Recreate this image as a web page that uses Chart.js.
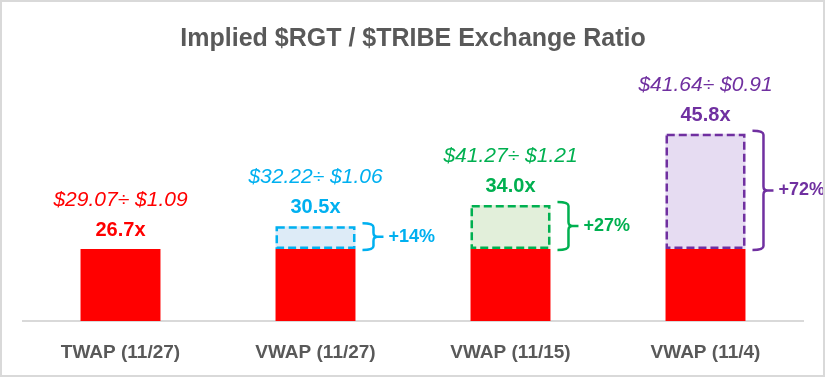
<!DOCTYPE html>
<html>
<head>
<meta charset="utf-8">
<script src="https://cdn.jsdelivr.net/npm/chart.js@4"></script>
<style>
  html, body { margin: 0; padding: 0; background: #fff; }
  #wrap { width: 825px; height: 377px; position: relative; }
</style>
</head>
<body>
<div id="wrap"><canvas id="ratioChart" width="825" height="377"></canvas></div>
<script>
// Данные графика
const categories = ['TWAP (11/27)', 'VWAP (11/27)', 'VWAP (11/15)', 'VWAP (11/4)'];
const ratios = [26.7, 30.5, 34.0, 45.8];
const rgtPrices = [29.07, 32.22, 41.27, 41.64];
const tribePrices = [1.09, 1.06, 1.21, 0.91];
const premiums = ['', '+14%', '+27%', '+72%'];

// Цвета серий
const seriesColors = ['#FF0000', '#00B0F0', '#00B050', '#7030A0'];
const boxFills = ['rgba(0,0,0,0)', '#DDEBF7', '#E2EFDA', '#E6DCF2'];

const FONT = "'Liberation Sans', Arial, sans-serif";

// Фигурная скобка справа от столбца
function drawBrace(ctx, x0, top, bottom, color) {
    const x1 = x0 + 11;
    const mid = (top + bottom) / 2;
    const r = 4;
    ctx.save();
    ctx.strokeStyle = color;
    ctx.lineWidth = 2.5;
    ctx.lineJoin = 'round';
    ctx.beginPath();
    ctx.moveTo(x0, top);
    ctx.quadraticCurveTo(x1, top, x1, top + r);
    ctx.lineTo(x1, mid - r);
    ctx.quadraticCurveTo(x1, mid, x1 + r, mid);
    ctx.lineTo(x1 + 10, mid);
    ctx.moveTo(x1 + r, mid);
    ctx.quadraticCurveTo(x1, mid, x1, mid + r);
    ctx.lineTo(x1, bottom - r);
    ctx.quadraticCurveTo(x1, bottom, x0, bottom);
    ctx.stroke();
    ctx.restore();
    return { x: x1 + 10, y: mid };
}

// Подписи, пунктирные рамки и скобки
const annotatePlugin = {
    id: 'annotate',
    afterDatasetsDraw(chart) {
        const ctx = chart.ctx;
        const baseBars = chart.getDatasetMeta(0).data;
        const boxBars = chart.getDatasetMeta(1).data;

        categories.forEach((cat, i) => {
            const color = seriesColors[i];
            const bar = baseBars[i];
            let top = bar.y;

            if (i > 0 && boxBars[i]) {
                const box = boxBars[i];
                const lw = 2.5;
                const left = box.x - box.width / 2;
                const right = box.x + box.width / 2;
                top = box.y;

                ctx.save();
                ctx.setLineDash([8, 4]);
                ctx.lineWidth = lw;
                ctx.strokeStyle = color;
                ctx.strokeRect(left + lw / 2, box.y + lw / 2, box.width - lw, box.base - box.y - lw);
                ctx.restore();

                const nub = drawBrace(ctx, right + 7, box.y - 3, box.base + 1, color);
                ctx.save();
                ctx.fillStyle = color;
                ctx.font = 'bold 18px ' + FONT;
                ctx.textAlign = 'left';
                ctx.textBaseline = 'middle';
                ctx.fillText(premiums[i], nub.x + 5, nub.y);
                ctx.restore();
            }

            ctx.save();
            ctx.fillStyle = color;
            ctx.textAlign = 'center';
            ctx.textBaseline = 'alphabetic';
            ctx.font = 'bold 20px ' + FONT;
            ctx.fillText(ratios[i].toFixed(1) + 'x', bar.x, top - 13);
            ctx.font = 'italic 21px ' + FONT;
            ctx.fillText('$' + rgtPrices[i].toFixed(2) + '÷ $' + tribePrices[i].toFixed(2), bar.x, top - 43);
            ctx.restore();
        });
    },
    afterDraw(chart) {
        const ctx = chart.ctx;
        ctx.save();
        ctx.strokeStyle = '#D9D9D9';
        ctx.lineWidth = 2;
        ctx.strokeRect(1, 1, chart.width - 2, chart.height - 2);
        ctx.restore();
    }
};

const ctx = document.getElementById('ratioChart').getContext('2d');
new Chart(ctx, {
    type: 'bar',
    data: {
        labels: categories,
        datasets: [
            {
                label: 'TWAP',
                data: categories.map(() => ratios[0]),
                backgroundColor: seriesColors[0],
                borderWidth: 0,
                barPercentage: 0.41,
                categoryPercentage: 1
            },
            {
                label: 'Премия',
                data: ratios.map((r, i) => i === 0 ? null : [ratios[0], r]),
                backgroundColor: boxFills,
                borderWidth: 0,
                barPercentage: 0.41,
                categoryPercentage: 1
            }
        ]
    },
    options: {
        responsive: false,
        animation: false,
        layout: { padding: { left: 23, right: 22, top: 0, bottom: 0 } },
        plugins: {
            legend: { display: false },
            tooltip: { enabled: false },
            title: {
                display: true,
                text: 'Implied $RGT / $TRIBE Exchange Ratio',
                color: '#595959',
                font: { family: FONT, size: 25, weight: 'bold' },
                padding: { top: 24, bottom: 8 }
            }
        },
        scales: {
            x: {
                stacked: true,
                grid: { display: false, drawTicks: false },
                border: { display: true, color: '#D9D9D9', width: 2 },
                ticks: {
                    color: '#595959',
                    padding: 20,
                    font: { family: FONT, size: 19, weight: 'bold' }
                },
                afterFit(scale) { scale.height = 56; }
            },
            y: {
                display: false,
                stacked: false,
                min: 14.79,
                max: 57.7
            }
        }
    },
    plugins: [annotatePlugin]
});
</script>
</body>
</html>
